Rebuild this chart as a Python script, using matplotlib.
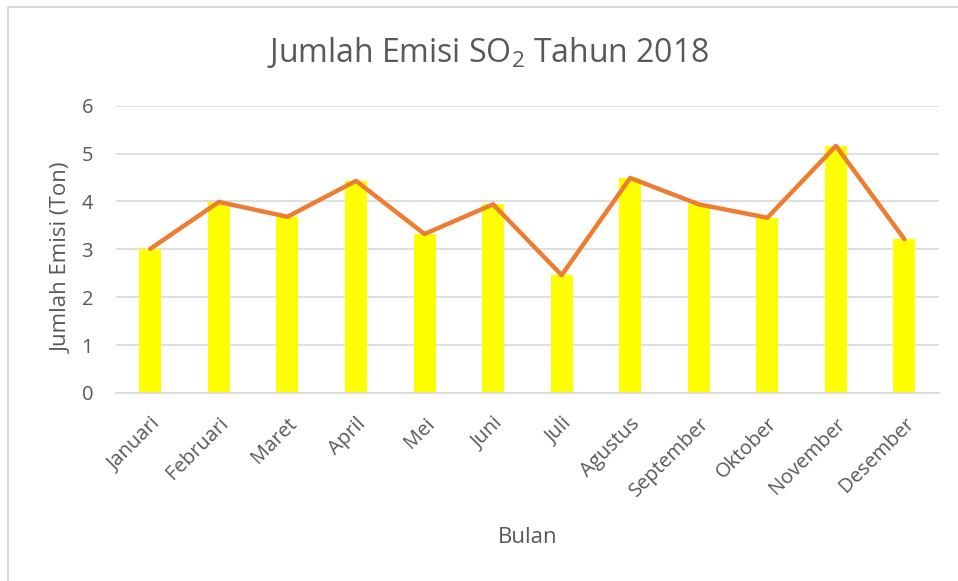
import matplotlib.pyplot as plt
from matplotlib.lines import Line2D

# data
bulan = ['Januari', 'Februari', 'Maret', 'April', 'Mei', 'Juni', 'Juli',
         'Agustus', 'September', 'Oktober', 'November', 'Desember']
emisi = [3.01, 3.99, 3.68, 4.43, 3.32, 3.94, 2.46, 4.49, 3.94, 3.66, 5.16, 3.21]
y_ticks = [0, 1, 2, 3, 4, 5, 6]

text_color = '#595959'
plt.rcParams['font.family'] = ['Open Sans', 'DejaVu Sans']

fig = plt.figure(figsize=(9.58, 5.81), dpi=100)
ax = fig.add_axes([0.1211, 0.3236, 0.8588, 0.4945])

x = range(len(bulan))
ax.bar(x, emisi, width=0.32, color='#FFFF00', zorder=2)
ax.plot(x, emisi, color='#ED7D31', linewidth=3.2, solid_capstyle='round',
        solid_joinstyle='round', zorder=3)

ax.set_xlim(-0.5, len(bulan) - 0.5)
ax.set_ylim(0, 6)
ax.set_yticks(y_ticks)
ax.grid(axis='y', color='#d9d9d9', linewidth=1.2, zorder=0)
ax.set_axisbelow(True)
for s in ['top', 'right', 'left']:
    ax.spines[s].set_visible(False)
ax.spines['bottom'].set_color('#d9d9d9')
ax.spines['bottom'].set_linewidth(1.2)
ax.tick_params(length=0, colors=text_color, labelsize=14.5)
ax.tick_params(axis='y', pad=16.5)
ax.tick_params(axis='x', pad=15)

ax.set_xticks(list(x))
ax.set_xticklabels(bulan, rotation=45, ha='right', va='top',
                   rotation_mode='anchor')

ax.set_ylabel('Jumlah Emisi (Ton)', color=text_color, fontsize=16)
ax.yaxis.set_label_coords(-0.052, 0.47)
ax.set_xlabel('Bulan', color=text_color, fontsize=16)
ax.xaxis.set_label_coords(0.5008, -0.466)

fig.text(0.509, 0.91, r'Jumlah Emisi SO$_\mathregular{2}$ Tahun 2018',
         ha='center', va='center', color=text_color, fontsize=23)

# thin chart border (only left and top edges are inside the picture)
fig.lines.append(Line2D([8 / 958, 8 / 958, 1.0], [0.0, 1 - 7 / 581, 1 - 7 / 581],
                        transform=fig.transFigure, color='#d9d9d9', linewidth=1.5))

plt.savefig('out.png', dpi=100)
